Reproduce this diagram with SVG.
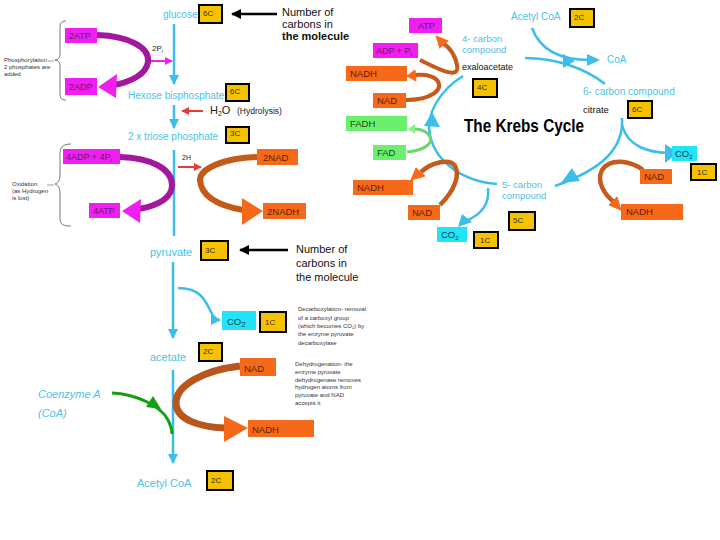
<svg xmlns="http://www.w3.org/2000/svg" width="720" height="540" viewBox="0 0 720 540">
<defs>
<style>
text{font-family:"Liberation Sans",Arial,sans-serif}
.cy{fill:#4cc2e6}
.num rect{fill:#f6c200;stroke:#000;stroke-width:2}
.num text{font-size:8px;fill:#3a2a00}
.mg rect{fill:#f01ef0}
.mg text{font-size:9px;fill:#6a1a6a}
.or rect{fill:#f7691a}
.or text{font-size:9.5px;fill:#5a1e00}
.gr rect{fill:#6cef6c}
.gr text{font-size:9.5px;fill:#1e4a1e}
.co rect{fill:#22e4f6}
.co text{font-size:9.5px;fill:#103a50}
.cl{fill:none;stroke:#3dbde9;stroke-width:2.5}
.ch{fill:#3dbde9}
.note{font-size:6px;fill:#333}
.blk{font-size:11px;fill:#111}
</style>
<marker id="ac" viewBox="0 0 10 10" refX="9" refY="5" markerWidth="4" markerHeight="4" orient="auto"><path d="M0,0L10,5L0,10z" fill="#3dbde9"/></marker>
<marker id="ak" viewBox="0 0 10 10" refX="9" refY="5" markerWidth="4" markerHeight="4" orient="auto"><path d="M0,0L10,5L0,10z" fill="#000"/></marker>
<marker id="ar" viewBox="0 0 10 10" refX="9" refY="5" markerWidth="4" markerHeight="4" orient="auto"><path d="M0,0L10,5L0,10z" fill="#e83a3a"/></marker>
<marker id="am" viewBox="0 0 10 10" refX="9" refY="5" markerWidth="4" markerHeight="4" orient="auto"><path d="M0,0L10,5L0,10z" fill="#f01ef0"/></marker>
</defs>
<rect width="720" height="540" fill="#fff"/>

<g id="connectors">
<path class="cl" d="M174,24V84" marker-end="url(#ac)"/>
<path class="cl" d="M174,105V128" marker-end="url(#ac)"/>
<path class="cl" d="M174,150V236"/>
<path class="cl" d="M173,262V338" marker-end="url(#ac)"/>
<path class="cl" d="M178,288C200,288 205,300 210,310C213,317 216,320 220,320" marker-end="url(#ac)"/>
<path class="cl" d="M173,370V463" marker-end="url(#ac)"/>
<path d="M277,14H232" stroke="#000" stroke-width="2.5" fill="none" marker-end="url(#ak)"/>
<path d="M288,250H240" stroke="#000" stroke-width="2.5" fill="none" marker-end="url(#ak)"/>
<path d="M203,111H182" stroke="#e83a3a" stroke-width="2" fill="none" marker-end="url(#ar)"/>
<path d="M178,167H201" stroke="#e83a3a" stroke-width="2" fill="none" marker-end="url(#ar)"/>
<path d="M148,61H172" stroke="#f01ef0" stroke-width="2" fill="none" marker-end="url(#am)"/>
<path d="M97,35C130,36 150,48 148,62C146,75 130,82 114,85" fill="none" stroke="#a3179f" stroke-width="6"/>
<polygon points="98,87 117,74 116,98" fill="#f01ef0"/>
<path d="M120,157C150,158 172,168 172,185C172,198 160,205 139,209" fill="none" stroke="#a3179f" stroke-width="6"/>
<polygon points="122,211 141,199 140,223" fill="#f01ef0"/>
<path d="M257,157C225,158 200,168 200,180C201,195 215,205 243,210" fill="none" stroke="#c55a18" stroke-width="6"/>
<polygon points="263,211 242,198 242,225" fill="#f7691a"/>
<path d="M240,366C205,370 175,385 176,404C177,420 200,427 225,428" fill="none" stroke="#b8561c" stroke-width="7"/>
<polygon points="248,428 224,416 224,442" fill="#f7691a"/>
<path d="M112,393C135,394 160,405 168,420C171,426 172,430 172,434" fill="none" stroke="#12a012" stroke-width="3"/>
<polygon points="161,409 146,407 153,396" fill="#12a012"/>

<path class="cl" d="M463,76C440,90 425,115 430,135C435,160 460,181 497,184"/>
<polygon class="ch" points="432,112 424,126 440,127"/>
<path class="cl" d="M525,58C555,58 585,68 605,84"/>
<polygon class="ch" points="563,54 575,61 563,68"/>
<path class="cl" d="M532,28C540,50 560,60 590,60"/>
<polygon class="ch" points="587,54 600,60 587,66"/>
<path class="cl" d="M622,118C624,150 600,170 555,186"/>
<polygon class="ch" points="561,183 572,168 580,181"/>
<path class="cl" d="M622,125C628,148 650,152 668,153"/>
<polygon class="ch" points="678,153 665,144 665,163"/>
<path class="cl" d="M488,188C490,205 480,215 466,221"/>
<polygon class="ch" points="458,227 462,214 472,222"/>
<path d="M420,60C440,70 460,80 457,65C455,54 450,48 443,43" fill="none" stroke="#c45a1c" stroke-width="4"/>
<polygon points="437,37 447,41 440,47" fill="#f7691a" stroke="#f7691a" stroke-width="2"/>
<path d="M406,100C430,100 445,90 437,80C432,75 424,74 414,75" fill="none" stroke="#c45a1c" stroke-width="4"/>
<polygon points="407,76 415,70 416,81" fill="#f7691a" stroke="#f7691a" stroke-width="1"/>
<path d="M407,152C428,150 435,141 428,134C424,130 419,129 414,129" fill="none" stroke="#6cd86c" stroke-width="3"/>
<polygon points="408,129 415,124 415,134" fill="#8af08a"/>
<path d="M440,205C455,190 460,175 455,166C450,158 432,162 421,172" fill="none" stroke="#c45a1c" stroke-width="4.5"/>
<polygon points="411,180 416,168 425,176" fill="#f7691a" stroke="#f7691a" stroke-width="1"/>
<path d="M643,170C630,160 610,158 602,170C596,182 605,195 614,202" fill="none" stroke="#c45a1c" stroke-width="4.5"/>
<polygon points="621,210 609,205 617,197" fill="#f7691a" stroke="#f7691a" stroke-width="1"/>
</g>

<g id="brace1">
<path d="M66,21C60,21 60,24 60,30V54C60,58 58,60 55,60C58,60 60,62 60,66V92C60,98 61,100 66,100" fill="none" stroke="#555" stroke-width="0.8"/>
<path d="M48,61H54" stroke="#555" stroke-width="0.6"/>
<text class="note" x="4" y="62">Phosphorylation</text>
<text class="note" x="4" y="69">2 phosphates are</text>
<text class="note" x="4" y="76">added</text>
</g>
<g id="brace2">
<path d="M71,144C62,144 60,148 60,155V175C60,180 58,183 55,184C58,185 60,188 60,193V218C60,224 62,226 71,226" fill="none" stroke="#555" stroke-width="0.8"/>
<path d="M47,185H54" stroke="#555" stroke-width="0.6"/>
<text class="note" x="12" y="186">Oxidation</text>
<text class="note" x="12" y="193">(as Hydrogen</text>
<text class="note" x="12" y="200">is lost)</text>
</g>

<g id="glucose"><text class="cy" x="163" y="18" font-size="10">glucose</text></g>
<g id="hexose"><text class="cy" x="128" y="99" font-size="10">Hexose bisphosphate</text></g>
<g id="triose"><text class="cy" x="128" y="140" font-size="10">2 x triose phosphate</text></g>
<g id="pyruvate"><text class="cy" x="150" y="256" font-size="11">pyruvate</text></g>
<g id="acetate"><text class="cy" x="150" y="361" font-size="11">acetate</text></g>
<g id="acetylcoa-left"><text class="cy" x="137" y="487" font-size="11">Acetyl CoA</text></g>
<g id="coenzymeA"><text class="cy" x="38" y="398" font-size="11" font-style="italic">Coenzyme A</text><text class="cy" x="38" y="417" font-size="11" font-style="italic">(CoA)</text></g>
<g id="note-carbons1"><text class="blk" x="282" y="16">Number of</text><text class="blk" x="282" y="28">carbons in</text><text class="blk" x="282" y="40" font-weight="bold">the molecule</text></g>
<g id="note-carbons2"><text class="blk" x="296" y="253" font-size="12.5">Number of</text><text class="blk" x="296" y="267" font-size="12.5">carbons in</text><text class="blk" x="296" y="281" font-size="12.5">the molecule</text></g>
<g id="h2o"><text x="210" y="114" font-size="11" fill="#222">H<tspan font-size="7" dy="2">2</tspan><tspan dy="-2">O</tspan></text><text x="237" y="114" font-size="8.5" fill="#222">(Hydrolysis)</text></g>
<g id="twoPi"><text x="152" y="51" font-size="8" fill="#222">2P<tspan font-size="5" dy="2">i</tspan></text></g>
<g id="twoH"><text x="182" y="160" font-size="7" fill="#222">2H</text></g>
<g id="decarb">
<text class="note" x="298" y="311">Decarboxylation- removal</text>
<text class="note" x="298" y="320">of a carboxyl group</text>
<text class="note" x="298" y="328">(which becomes CO<tspan font-size="4" dy="1">2</tspan><tspan dy="-1">) by</tspan></text>
<text class="note" x="298" y="336">the enzyme pyruvate</text>
<text class="note" x="298" y="345">decarboxylase</text>
</g>
<g id="dehyd">
<text class="note" x="295" y="366">Dehydrogenation- the</text>
<text class="note" x="295" y="374">enzyme pyruvate</text>
<text class="note" x="295" y="382">dehydrogenase removes</text>
<text class="note" x="295" y="389">hydrogen atoms from</text>
<text class="note" x="295" y="397">pyruvate and NAD</text>
<text class="note" x="295" y="405">accepts it</text>
</g>

<g class="num" id="n-glucose"><rect x="199" y="5" width="23" height="18"/><text x="203" y="16">6C</text></g>
<g class="num" id="n-hexose"><rect x="226" y="84" width="23" height="17"/><text x="230" y="94">6C</text></g>
<g class="num" id="n-triose"><rect x="226" y="127" width="23" height="16"/><text x="230" y="136">3C</text></g>
<g class="num" id="n-pyruvate"><rect x="201" y="241" width="27" height="19"/><text x="205" y="253" font-size="9">3C</text></g>
<g class="num" id="n-co2"><rect x="260" y="312" width="26" height="20"/><text x="265" y="325" font-size="9">1C</text></g>
<g class="num" id="n-acetate"><rect x="199" y="343" width="23" height="18"/><text x="203" y="354">2C</text></g>
<g class="num" id="n-acetyl"><rect x="207" y="471" width="26" height="19"/><text x="211" y="483" font-size="9">2C</text></g>
<g class="num" id="k-2c"><rect x="570" y="9" width="24" height="18"/><text x="574" y="20">2C</text></g>
<g class="num" id="k-4c"><rect x="473" y="79" width="24" height="18"/><text x="477" y="90">4C</text></g>
<g class="num" id="k-6c"><rect x="628" y="101" width="24" height="17"/><text x="632" y="112">6C</text></g>
<g class="num" id="k-1c-a"><rect x="691" y="164" width="25" height="16"/><text x="697" y="175">1C</text></g>
<g class="num" id="k-5c"><rect x="509" y="212" width="26" height="18"/><text x="513" y="223">5C</text></g>
<g class="num" id="k-1c-b"><rect x="474" y="232" width="24" height="16"/><text x="480" y="243">1C</text></g>

<g class="mg" id="b-2atp"><rect x="65" y="28" width="32" height="15"/><text x="69" y="39">2ATP</text></g>
<g class="mg" id="b-2adp"><rect x="65" y="78" width="32" height="17"/><text x="69" y="90">2ADP</text></g>
<g class="mg" id="b-4adp"><rect x="63" y="149" width="57" height="15"/><text x="66" y="160">4ADP + 4P<tspan font-size="6" dy="2">i</tspan></text></g>
<g class="mg" id="b-4atp"><rect x="89" y="203" width="31" height="15"/><text x="93" y="214">4ATP</text></g>
<g class="mg" id="k-atp"><rect x="409" y="18" width="33" height="15"/><text x="418" y="29">ATP</text></g>
<g class="mg" id="k-adp"><rect x="373" y="43" width="45" height="15"/><text x="376" y="54">ADP + P<tspan font-size="6" dy="2">i</tspan></text></g>

<g class="or" id="b-2nad"><rect x="257" y="149" width="41" height="16"/><text x="263" y="161">2NAD</text></g>
<g class="or" id="b-2nadh"><rect x="263" y="203" width="43" height="16"/><text x="267" y="215">2NADH</text></g>
<g class="or" id="b-nad"><rect x="240" y="358" width="36" height="18"/><text x="244" y="372" font-size="13" fill="#2a0a00">NAD</text></g>
<g class="or" id="b-nadh"><rect x="248" y="420" width="66" height="17"/><text x="252" y="433" font-size="12" fill="#2a0a00">NADH</text></g>
<g class="or" id="k-nadh1"><rect x="346" y="66" width="61" height="15"/><text x="350" y="77">NADH</text></g>
<g class="or" id="k-nad1"><rect x="373" y="93" width="33" height="15"/><text x="377" y="104">NAD</text></g>
<g class="or" id="k-nadh2"><rect x="353" y="180" width="60" height="15"/><text x="357" y="191">NADH</text></g>
<g class="or" id="k-nad2"><rect x="408" y="205" width="32" height="15"/><text x="412" y="216">NAD</text></g>
<g class="or" id="k-nad3"><rect x="640" y="169" width="32" height="15"/><text x="644" y="180">NAD</text></g>
<g class="or" id="k-nadh3"><rect x="621" y="204" width="62" height="16"/><text x="626" y="215">NADH</text></g>

<g class="gr" id="k-fadh"><rect x="346" y="116" width="61" height="15"/><text x="350" y="127">FADH</text></g>
<g class="gr" id="k-fad"><rect x="373" y="145" width="33" height="15"/><text x="377" y="156">FAD</text></g>

<g class="co" id="b-co2"><rect x="222" y="311" width="34" height="19"/><text x="227" y="325" font-size="12">CO<tspan font-size="8" dy="2">2</tspan></text></g>
<g class="co" id="k-co2a"><rect x="672" y="146" width="25" height="15"/><text x="675" y="157">CO<tspan font-size="6" dy="2">2</tspan></text></g>
<g class="co" id="k-co2b"><rect x="437" y="227" width="30" height="15"/><text x="441" y="238">CO<tspan font-size="6" dy="2">2</tspan></text></g>

<g id="k-acetyl"><text class="cy" x="511" y="20" font-size="10">Acetyl CoA</text></g>
<g id="k-4carbon"><text class="cy" x="462" y="42" font-size="9.5">4- carbon</text><text class="cy" x="462" y="53" font-size="9.5">compound</text><text x="462" y="70" font-size="9" fill="#111">exaloacetate</text></g>
<g id="k-coa"><text class="cy" x="607" y="63" font-size="10">CoA</text></g>
<g id="k-6carbon"><text class="cy" x="583" y="95" font-size="10">6- carbon compound</text><text x="583" y="113" font-size="9.5" fill="#111">citrate</text></g>
<g id="k-5carbon"><text class="cy" x="502" y="188" font-size="9.5">5- carbon</text><text class="cy" x="502" y="199" font-size="9.5">compound</text></g>
<g id="k-title"><text x="464" y="132" font-size="18" font-weight="900" fill="#000" textLength="120" lengthAdjust="spacingAndGlyphs">The Krebs Cycle</text></g>
</svg>
